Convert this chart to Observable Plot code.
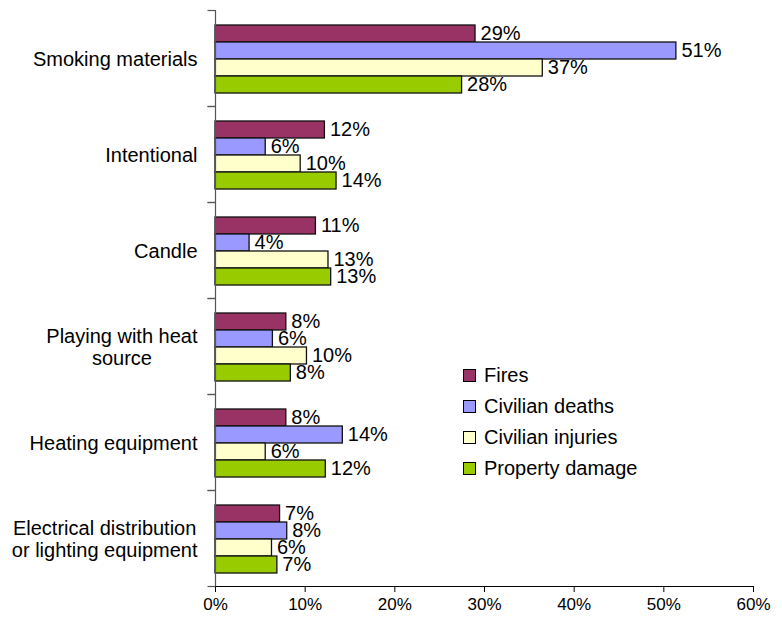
<!DOCTYPE html>
<html><head><meta charset="utf-8">
<script src="https://cdn.jsdelivr.net/npm/d3@7"></script>
<script src="https://cdn.jsdelivr.net/npm/@observablehq/plot@0.6"></script>
<style>
body{margin:0;background:#fff;font-family:"Liberation Sans",Arial,sans-serif;}
#wrap{position:relative;width:782px;height:621px;}
#legend{position:absolute;left:463px;top:360px;font-size:20px;color:#000;font-family:"Liberation Sans",Arial,sans-serif;}
.row{display:flex;align-items:center;height:31px;white-space:nowrap;}
.sw{width:11px;height:11px;border:1.3px solid #000;margin-right:8px;flex:none;}
#wrap svg g[aria-label^="x-axis"] text{font-size:17px;}
</style></head><body><div id="wrap"></div>
<script>
const categories = ["Smoking materials","Intentional","Candle","Playing with heat source","Heating equipment","Electrical distribution or lighting equipment"];
const categoryLabels = ["Smoking materials","Intentional","Candle","Playing with heat\nsource","Heating equipment","Electrical distribution\nor lighting equipment"];
const series = ["Fires","Civilian deaths","Civilian injuries","Property damage"];
const colors = ["#993366","#9999FF","#FFFFCC","#99CC00"];
const fires    = [29.0, 12.2, 11.2, 7.9, 7.9, 7.2];
const deaths   = [51.4, 5.6, 3.8, 6.4, 14.2, 8.0];
const injuries = [36.5, 9.5, 12.6, 10.2, 5.6, 6.3];
const damage   = [27.5, 13.5, 12.9, 8.4, 12.3, 6.9];
const firesLbl    = ["29%","12%","11%","8%","8%","7%"];
const deathsLbl   = ["51%","6%","4%","6%","14%","8%"];
const injuriesLbl = ["37%","10%","13%","10%","6%","6%"];
const damageLbl   = ["28%","14%","13%","8%","12%","7%"];
const xTicks = [0,10,20,30,40,50,60];

const seriesValues = [fires, deaths, injuries, damage];
const seriesLabels = [firesLbl, deathsLbl, injuriesLbl, damageLbl];
const data = [];
categories.forEach((c, i) => series.forEach((s, j) => data.push({category: c, series: s, value: seriesValues[j][i], label: seriesLabels[j][i]})));

const ctx = document.createElement("canvas").getContext("2d");
ctx.font = '20px "Liberation Sans", Arial, sans-serif';
const textW = s => Math.max(...s.split("\n").map(l => ctx.measureText(l).width));

const tickSym = {draw(c) { c.moveTo(-8, 0); c.lineTo(0, 0); }};

const labelMarks = categories.map((c, i) => Plot.text([c], {
  fy: d => d, frameAnchor: "left", text: () => categoryLabels[i],
  textAnchor: "middle", dx: -(18 + textW(categoryLabels[i]) / 2),
  fontSize: 20, lineHeight: 1.1, fill: "#000"
}));

const chart = Plot.plot({
  width: 782, height: 621,
  marginLeft: 215, marginRight: 29, marginTop: 10, marginBottom: 35,
  style: {fontFamily: '"Liberation Sans", Arial, sans-serif', fontSize: "17px", color: "#000", background: "#fff"},
  fy: {domain: categories, padding: 0, axis: null},
  y: {domain: series, paddingInner: 0, paddingOuter: 0.77, align: 0.54, axis: null},
  x: {domain: [0, 60], ticks: xTicks, tickFormat: d => d + "%", tickSize: 6, tickPadding: 5, line: true, label: null},
  color: {domain: series, range: colors},
  marks: [
    Plot.barX(data, {fy: "category", y: "series", x: "value", fill: "series", stroke: "#111", strokeWidth: 1.3}),
    Plot.text(data, {fy: "category", y: "series", x: "value", text: "label", dx: 5, textAnchor: "start", fontSize: 20, fill: "#000"}),
    Plot.ruleX([0], {stroke: "#555", strokeWidth: 1.2}),
    Plot.dot(categories, {fy: d => d, frameAnchor: "top-left", symbol: tickSym, fill: "none", stroke: "#555", strokeWidth: 1.2, r: 4}),
    Plot.dot(categories, {fy: d => d, frameAnchor: "bottom-left", symbol: tickSym, fill: "none", stroke: "#555", strokeWidth: 1.2, r: 4}),
    ...labelMarks
  ]
});

const wrap = document.getElementById("wrap");
wrap.appendChild(chart);
const legend = document.createElement("div");
legend.id = "legend";
series.forEach((s, j) => {
  const row = document.createElement("div");
  row.className = "row";
  const sw = document.createElement("span");
  sw.className = "sw";
  sw.style.background = colors[j];
  const t = document.createElement("span");
  t.textContent = s;
  row.appendChild(sw); row.appendChild(t);
  legend.appendChild(row);
});
wrap.appendChild(legend);
</script></body></html>
